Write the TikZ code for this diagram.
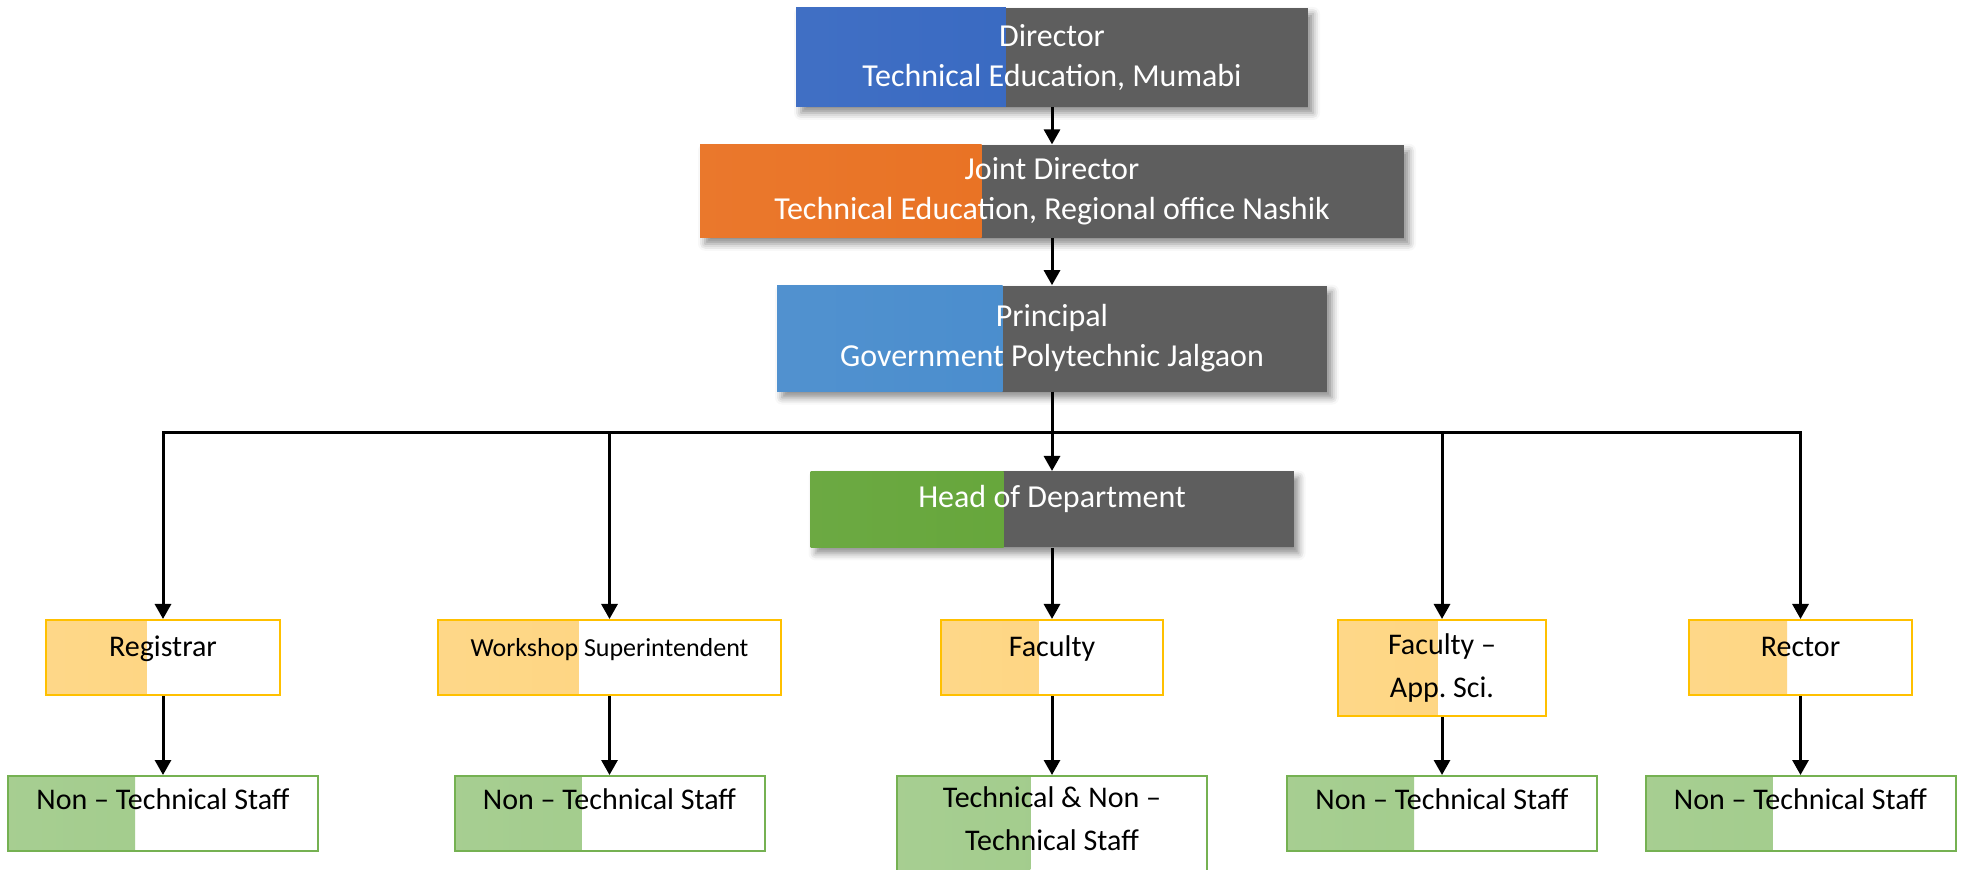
\documentclass[tikz,border=0pt]{standalone}
\usepackage{fontspec}
\setmainfont{Carlito}
\usetikzlibrary{arrows.meta, positioning, calc, shadows.blur}

\definecolor{slate}{HTML}{5E5E5E}
\definecolor{dirblue}{HTML}{3063BF}
\definecolor{jdorange}{HTML}{E86C1A}
\definecolor{prblue}{HTML}{4288CB}
\definecolor{hodgreen}{HTML}{5FA232}
\definecolor{peach}{HTML}{FED47E}
\definecolor{gold}{HTML}{FFC000}
\definecolor{sage}{HTML}{9FCA88}
\definecolor{leaf}{HTML}{75B152}

\begin{document}
\begin{tikzpicture}[
    x=0.5pt, y=-0.5pt,
    node distance=37.5pt and 20pt,
    >={Triangle[width=8pt,length=7.5pt]},
    head/.style={rectangle, fill=slate, text=white, align=center, inner sep=0pt,
        font=\fontsize{16}{20}\selectfont,
        blur shadow={shadow xshift=2.5pt, shadow yshift=-3pt, shadow blur radius=3.5pt, shadow opacity=45}},
    part/.style 2 args={path picture={\shade[left color=#1!92!white, right color=#1]
        (path picture bounding box.south west) rectangle
        ($(path picture bounding box.north west)!#2!(path picture bounding box.north east)$);}},
    post/.style={rectangle, draw=gold, line width=1pt, fill=white, align=center, inner sep=0pt,
        minimum height=37.5pt, font=\fontsize{15}{21.5}\selectfont, part={peach}{0.43}},
    staff/.style={post, draw=leaf, part={sage}{0.41}, minimum width=155pt},
    lift/.style={text height=11pt, text depth=#1},
    line/.style={draw, ->, line width=1.5pt}
]
    \useasboundingbox (0,0) rectangle (1963,870);

    % top of the chain
    \node[head, part={dirblue}{0.41}, minimum width=256pt, minimum height=49.5pt] (dir) at (1052,57.5)
        {Director\\Technical Education, Mumabi};
    \node[head, part={jdorange}{0.40}, minimum width=352pt, minimum height=46.5pt, below=18.5pt of dir] (jd)
        {Joint Director\\Technical Education, Regional office Nashik};
    \node[head, part={prblue}{0.41}, minimum width=275pt, minimum height=53pt, below=23.5pt of jd] (pr)
        {Principal\\Government Polytechnic Jalgaon};
    \node[head, part={hodgreen}{0.40}, lift=12.7pt, minimum width=241.5pt, minimum height=38pt, below=39.5pt of pr] (hod)
        {Head of Department};

    % sections
    \node[post, lift=12pt, minimum width=117pt] (reg) at (163,657.5) {Registrar};
    \node[post, lift=12pt, minimum width=171.5pt, part={peach}{0.41}, font=\fontsize{13}{18}\selectfont] (ws) at (609.5,657.5)
        {Workshop Superintendent};
    \node[post, lift=12pt, minimum width=111pt, part={peach}{0.44}] (fac) at (1052,657.5) {Faculty};
    \node[post, minimum width=104pt, minimum height=48pt, part={peach}{0.48}] (fas) at (1442,668)
        {Faculty --\\App.\ Sci.};
    \node[post, lift=12pt, minimum width=111.5pt, part={peach}{0.44}] (rec) at (1800.5,657.5) {Rector};

    % staff
    \node[staff, lift=15pt, below=39.5pt of reg] (st1) {Non -- Technical Staff};
    \node[staff, lift=15pt, below=39.5pt of ws] (st2) {Non -- Technical Staff};
    \node[staff, minimum height=48pt, text depth=5.5pt, part={sage}{0.43}, below=39.5pt of fac] (st3)
        {Technical \& Non --\\Technical Staff};
    \node[staff, lift=15pt, below=29pt of fas] (st4) {Non -- Technical Staff};
    \node[staff, lift=15pt, below=39.5pt of rec] (st5) {Non -- Technical Staff};

    \coordinate (bus) at (1052,433);

    \draw[line] (dir) -- (jd);
    \draw[line] (jd) -- (pr);
    \draw[line] (pr) -- (hod);
    \draw[line] (hod) -- (fac);
    \foreach \n in {reg,ws,fas,rec}
        \draw[line] (bus) -| (\n.north);

    \draw[line] (reg) -- (st1);
    \draw[line] (ws) -- (st2);
    \draw[line] (fac) -- (st3);
    \draw[line] (fas) -- (st4);
    \draw[line] (rec) -- (st5);
\end{tikzpicture}
\end{document}
